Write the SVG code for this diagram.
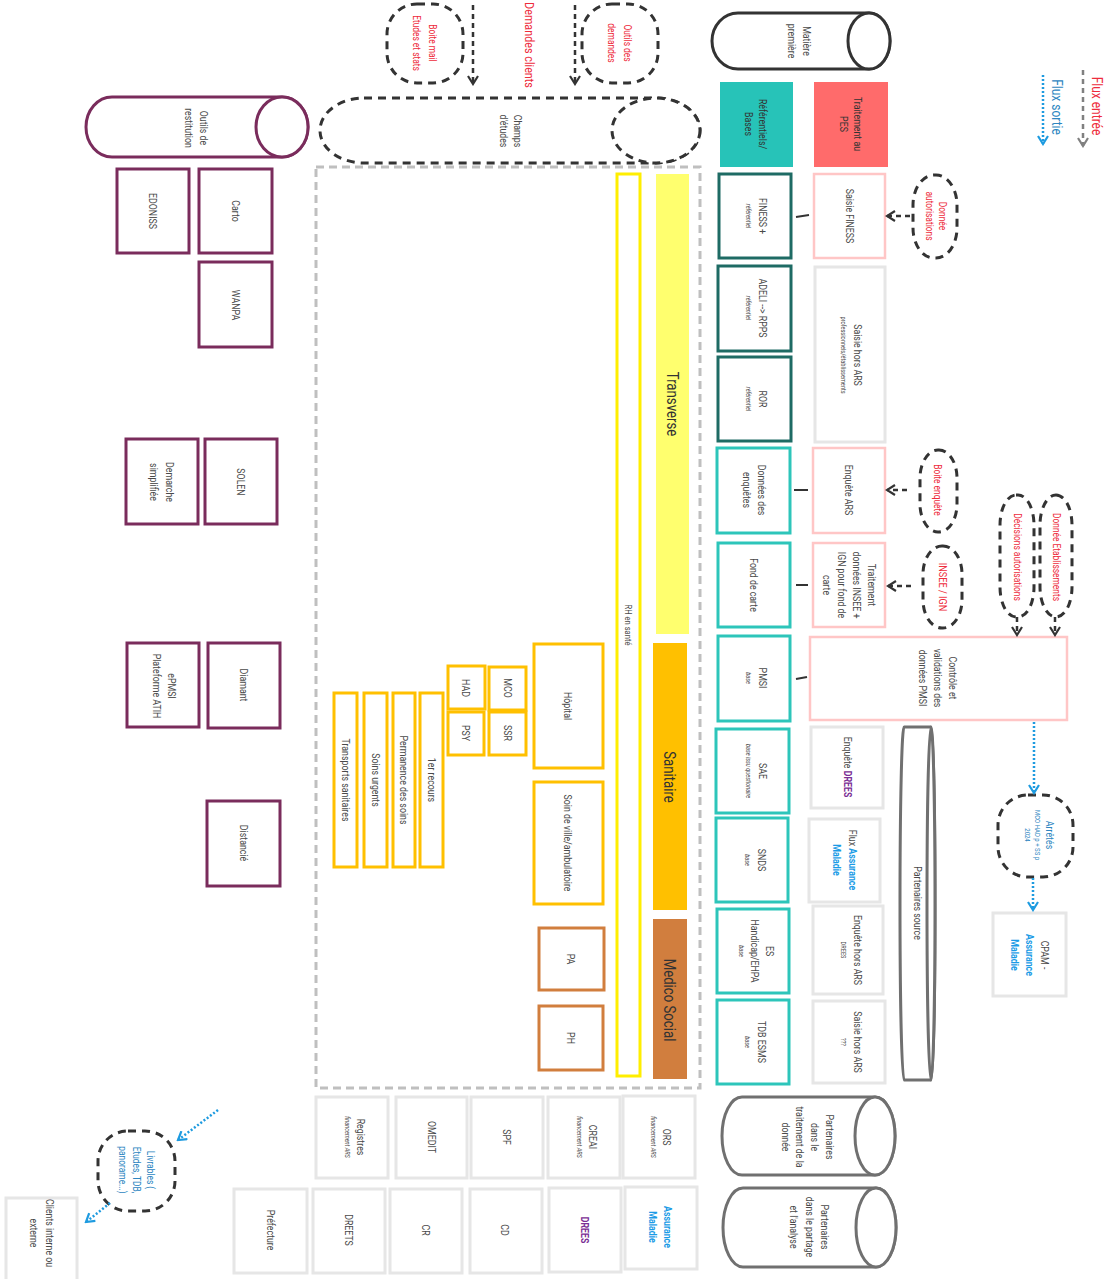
<svg xmlns="http://www.w3.org/2000/svg" width="1115" height="1279" viewBox="0 0 1115 1279">
<style>
.t{font-family:Roboto,"Liberation Sans",Arial,sans-serif;font-size:11px;fill:#4a4a4a;text-anchor:middle;dominant-baseline:central}
.sm{font-size:7px;font-style:italic}
.sm2{font-size:7px}
.red{fill:#EE2C3C}
.blt{fill:#2E86C1}
.bl{fill:#1A9BE6;font-weight:bold}
.pu{fill:#7B2F95;font-weight:bold}
.big{font-size:16.5px;fill:#333}
.pur{fill:#fff;stroke:#7A2C5C;stroke-width:3}
.dt{fill:#fff;stroke:#1E6B64;stroke-width:3}
.tq{fill:#fff;stroke:#2DC5BA;stroke-width:3}
.pk{fill:#fff;stroke:#FFC6C6;stroke-width:2.5}
.gr{fill:#fff;stroke:#E6E6E6;stroke-width:3}
.am{fill:#fff;stroke:#FFC000;stroke-width:3}
.cu{fill:#fff;stroke:#D17E3E;stroke-width:3}
.dash{fill:#fff;stroke:#333;stroke-width:3;stroke-dasharray:8 6}
.cg{fill:#fff;stroke:#707070;stroke-width:3}
.ck{fill:#fff;stroke:#333;stroke-width:3}
.cp{fill:#fff;stroke:#7A2C5C;stroke-width:3}
.dl{fill:none;stroke:#333;stroke-width:2.5;stroke-dasharray:5 4}
.lg{fill:none;stroke:#808080;stroke-width:2.5;stroke-dasharray:5 4}
.bd{fill:none;stroke:#1E9BE0;stroke-width:2.5;stroke-dasharray:2 2}
.sl{fill:none;stroke:#333;stroke-width:2}
</style>
<defs>
<marker id="ah" viewBox="0 0 12 12" refX="10" refY="6" markerWidth="12" markerHeight="12" markerUnits="userSpaceOnUse" orient="auto"><path d="M2,1 L10,6 L2,11" fill="none" stroke="#333" stroke-width="2.2"/></marker>
<marker id="ahg" viewBox="0 0 12 12" refX="10" refY="6" markerWidth="12" markerHeight="12" markerUnits="userSpaceOnUse" orient="auto"><path d="M2,1 L10,6 L2,11" fill="none" stroke="#808080" stroke-width="2.2"/></marker>
<marker id="ahb" viewBox="0 0 12 12" refX="10" refY="6" markerWidth="12" markerHeight="12" markerUnits="userSpaceOnUse" orient="auto"><path d="M2,1 L10,6 L2,11" fill="none" stroke="#1E9BE0" stroke-width="2.2"/></marker>
</defs>
<rect width="1115" height="1279" fill="#fff"/>

<g id="container"><rect x="316" y="167" width="384" height="921" fill="none" stroke="#BFBFBF" stroke-width="3" stroke-dasharray="8 5"/></g>

<g id="legend">
<text class="t red" transform="translate(1098,106) rotate(90) scale(.8,1)" style="font-size:15px">Flux entrée</text>
<text class="t blt" transform="translate(1058,107) rotate(90) scale(.8,1)" style="font-size:15px">Flux sortie</text>
</g>

<g id="demandes-clients"><text class="t red" transform="translate(529,45) rotate(90) scale(.8,1)" style="font-size:13.5px">Demandes clients</text></g>

<g id="boite-mail"><rect class="dash" x="387" y="4" width="76" height="79" rx="30"/>
<text class="t red" transform="translate(425,43) rotate(90) scale(.8,1)" style="font-size:10.5px"><tspan x="0" y="-8">Boite mail</tspan><tspan x="0" y="8">Etudes et stats</tspan></text></g>
<g id="outils-demandes"><rect class="dash" x="582" y="4" width="76" height="79" rx="30"/>
<text class="t red" transform="translate(620,43) rotate(90) scale(.8,1)" style="font-size:10.5px"><tspan x="0" y="-8">Outils des</tspan><tspan x="0" y="8">demandes</tspan></text></g>

<g id="champs-etudes"><path class="dash" d="M364,98 L656,98 A44 32.5 0 0 1 656,163 L364,163 A44 32.5 0 0 1 364,98 Z"/><ellipse class="dash" cx="656" cy="130.5" rx="44" ry="32.5"/>
<text class="t" transform="translate(511,131) rotate(90) scale(.8,1)"><tspan x="0" y="-7">Champs</tspan><tspan x="0" y="7">d'études</tspan></text></g>

<g id="matiere-premiere"><path class="ck" d="M738,13 L869,13 A21 28 0 0 1 869,69 L738,69 A26 28 0 0 1 738,13 Z"/><ellipse class="ck" cx="869" cy="41" rx="21" ry="28"/>
<text class="t" transform="translate(800,41) rotate(90) scale(.8,1)"><tspan x="0" y="-7.5">Matière</tspan><tspan x="0" y="7.5">première</tspan></text></g>

<g id="referentiels"><rect x="720" y="82" width="73" height="85" fill="#27C3B8"/>
<text class="t" transform="translate(756,124) rotate(90) scale(.8,1)" style="fill:#333"><tspan x="0" y="-7">Référentiels/</tspan><tspan x="0" y="7">Bases</tspan></text></g>
<g id="traitement-pes"><rect x="814" y="82" width="74" height="85" fill="#FF6B6B"/>
<text class="t" transform="translate(851,124) rotate(90) scale(.8,1)" style="fill:#333"><tspan x="0" y="-7">Traitement au</tspan><tspan x="0" y="7">PES</tspan></text></g>

<g id="outils-restitution"><path class="cp" d="M112,97 L282,97 A26 30 0 0 1 282,157 L112,157 A26 30 0 0 1 112,97 Z"/><ellipse class="cp" cx="282" cy="127" rx="26" ry="30"/>
<text class="t" transform="translate(197,128) rotate(90) scale(.8,1)"><tspan x="0" y="-7.5">Outils de</tspan><tspan x="0" y="7.5">restitution</tspan></text></g>

<g id="edoniss"><rect class="pur" x="117" y="169" width="72" height="84"/><text class="t" transform="translate(153,211) rotate(90) scale(.8,1)">EDONISS</text></g>
<g id="carto"><rect class="pur" x="199" y="169" width="73" height="84"/><text class="t" transform="translate(236,211) rotate(90) scale(.8,1)">Carto</text></g>
<g id="wanpa"><rect class="pur" x="199" y="262" width="73" height="85"/><text class="t" transform="translate(236,305) rotate(90) scale(.8,1)">WANPA</text></g>
<g id="demarche"><rect class="pur" x="126" y="439" width="72" height="85"/><text class="t" transform="translate(162,482) rotate(90) scale(.8,1)"><tspan x="0" y="-8">Demarche</tspan><tspan x="0" y="8">simplifiée</tspan></text></g>
<g id="solen"><rect class="pur" x="205" y="439" width="72" height="85"/><text class="t" transform="translate(241,482) rotate(90) scale(.8,1)">SOLEN</text></g>
<g id="epmsi"><rect class="pur" x="127" y="643" width="72" height="84"/><text class="t" transform="translate(164,686) rotate(90) scale(.8,1)"><tspan x="0" y="-8">ePMSI</tspan><tspan x="0" y="7">Plateforme ATIH</tspan></text></g>
<g id="diamant"><rect class="pur" x="208" y="643" width="72" height="85"/><text class="t" transform="translate(244,685) rotate(90) scale(.8,1)">Diamant</text></g>
<g id="distancie"><rect class="pur" x="207" y="801" width="73" height="85"/><text class="t" transform="translate(244,843) rotate(90) scale(.8,1)">Distancié</text></g>

<g id="transverse"><rect x="656" y="174" width="33" height="460" fill="#FFFF6E"/><text class="t big" transform="translate(673,404) rotate(90) scale(.8,1)">Transverse</text></g>
<g id="sanitaire"><rect x="653" y="643" width="34" height="267" fill="#FFC000"/><text class="t big" transform="translate(670,777) rotate(90) scale(.8,1)">Sanitaire</text></g>
<g id="medico-social"><rect x="653" y="919" width="34" height="160" fill="#D17E3E"/><text class="t big" transform="translate(670,1000) rotate(90) scale(.8,1)">Medico Social</text></g>
<g id="rh-sante"><rect x="617" y="174" width="23" height="902" fill="#fff" stroke="#FFEE00" stroke-width="3"/><text class="t" transform="translate(628,625) rotate(90) scale(.8,1)" style="font-size:9.5px">RH en santé</text></g>

<g id="hopital"><rect class="am" x="534" y="644" width="69" height="124"/><text class="t" transform="translate(568,706) rotate(90) scale(.8,1)">Hôpital</text></g>
<g id="soin-ville"><rect class="am" x="534" y="782" width="69" height="122"/><text class="t" transform="translate(568,843) rotate(90) scale(.8,1)">Soin de ville/ambulatoire</text></g>
<g id="pa"><rect class="cu" x="539" y="928" width="65" height="62"/><text class="t" transform="translate(571,959) rotate(90) scale(.8,1)">PA</text></g>
<g id="ph"><rect class="cu" x="539" y="1006" width="64" height="64"/><text class="t" transform="translate(571,1038) rotate(90) scale(.8,1)">PH</text></g>
<g id="mco"><rect class="am" x="489" y="667" width="37" height="43"/><text class="t" transform="translate(508,688) rotate(90) scale(.8,1)">MCO</text></g>
<g id="ssr"><rect class="am" x="489" y="712" width="37" height="43"/><text class="t" transform="translate(508,733) rotate(90) scale(.8,1)">SSR</text></g>
<g id="had"><rect class="am" x="448" y="666" width="37" height="43"/><text class="t" transform="translate(466,688) rotate(90) scale(.8,1)">HAD</text></g>
<g id="psy"><rect class="am" x="448" y="712" width="36" height="43"/><text class="t" transform="translate(466,733) rotate(90) scale(.8,1)">PSY</text></g>
<g id="premier-recours"><rect class="am" x="420" y="693" width="23" height="174"/><text class="t" transform="translate(432,780) rotate(90) scale(.8,1)">1er recours</text></g>
<g id="permanence"><rect class="am" x="393" y="693" width="22" height="174"/><text class="t" transform="translate(404,780) rotate(90) scale(.8,1)">Permanence des soins</text></g>
<g id="soins-urgents"><rect class="am" x="364" y="693" width="23" height="174"/><text class="t" transform="translate(376,780) rotate(90) scale(.8,1)">Soins urgents</text></g>
<g id="transports"><rect class="am" x="334" y="693" width="23" height="174"/><text class="t" transform="translate(346,780) rotate(90) scale(.8,1)">Transports sanitaires</text></g>

<g id="finess"><rect class="dt" x="719" y="174" width="72" height="84"/><text class="t" transform="translate(755,216) rotate(90) scale(.8,1)"><tspan x="0" y="-8">FINESS +</tspan><tspan class="sm" x="0" y="7">référentiel</tspan></text></g>
<g id="adeli"><rect class="dt" x="718" y="266" width="73" height="85"/><text class="t" transform="translate(755,308) rotate(90) scale(.8,1)"><tspan x="0" y="-8">ADELI --&gt; RPPS</tspan><tspan class="sm" x="0" y="7">référentiel</tspan></text></g>
<g id="ror"><rect class="dt" x="718" y="357" width="73" height="84"/><text class="t" transform="translate(755,399) rotate(90) scale(.8,1)"><tspan x="0" y="-8">ROR</tspan><tspan class="sm" x="0" y="7">référentiel</tspan></text></g>
<g id="donnees-enquetes"><rect class="tq" x="717" y="448" width="73" height="85"/><text class="t" transform="translate(755,490) rotate(90) scale(.8,1)"><tspan x="0" y="-7">Données des</tspan><tspan x="0" y="8">enquêtes</tspan></text></g>
<g id="fond-carte"><rect class="tq" x="718" y="543" width="72" height="84"/><text class="t" transform="translate(754,585) rotate(90) scale(.8,1)">Fond de carte</text></g>
<g id="pmsi"><rect class="tq" x="718" y="636" width="72" height="85"/><text class="t" transform="translate(755,678) rotate(90) scale(.8,1)"><tspan x="0" y="-8">PMSI</tspan><tspan class="sm" x="0" y="7">base</tspan></text></g>
<g id="sae"><rect class="tq" x="716" y="729" width="73" height="84"/><text class="t" transform="translate(755,771) rotate(90) scale(.8,1)"><tspan x="0" y="-8">SAE</tspan><tspan class="sm" x="0" y="7">base issu questionaire</tspan></text></g>
<g id="snds"><rect class="tq" x="716" y="818" width="72" height="84"/><text class="t" transform="translate(754,860) rotate(90) scale(.8,1)"><tspan x="0" y="-8">SNDS</tspan><tspan class="sm" x="0" y="7">base</tspan></text></g>
<g id="es-handicap"><rect class="tq" x="717" y="909" width="72" height="84"/><text class="t" transform="translate(755,951) rotate(90) scale(.8,1)"><tspan x="0" y="-15">ES</tspan><tspan x="0" y="0">Handicap/EHPA</tspan><tspan class="sm" x="0" y="14">base</tspan></text></g>
<g id="tdb-esms"><rect class="tq" x="717" y="1000" width="72" height="84"/><text class="t" transform="translate(754,1042) rotate(90) scale(.8,1)"><tspan x="0" y="-8">TDB ESMS</tspan><tspan class="sm" x="0" y="7">base</tspan></text></g>

<g id="saisie-finess"><rect class="pk" x="814" y="174" width="71" height="84"/><text class="t" transform="translate(850,216) rotate(90) scale(.8,1)">Saisie FINESS</text></g>
<g id="saisie-hors-ars"><rect class="gr" x="815" y="267" width="70" height="175"/><text class="t" transform="translate(850,355) rotate(90) scale(.8,1)"><tspan x="0" y="-8">Saisie hors ARS</tspan><tspan class="sm2" x="0" y="7">professionnels/établissements</tspan></text></g>
<g id="enquete-ars"><rect class="pk" x="813" y="448" width="72" height="85"/><text class="t" transform="translate(849,490) rotate(90) scale(.8,1)">Enquête ARS</text></g>
<g id="traitement-insee"><rect class="pk" x="813" y="543" width="72" height="84"/><text class="t" transform="translate(850,585) rotate(90) scale(.8,1)"><tspan x="0" y="-22.5">Traitement</tspan><tspan x="0" y="-7.5">données INSEE +</tspan><tspan x="0" y="7.5">IGN pour fond de</tspan><tspan x="0" y="22.5">carte</tspan></text></g>
<g id="controle-pmsi"><rect class="pk" x="810" y="637" width="257" height="83"/><text class="t" transform="translate(938,678) rotate(90) scale(.8,1)"><tspan x="0" y="-15">Contrôle et</tspan><tspan x="0" y="0">validations des</tspan><tspan x="0" y="15">données PMSI</tspan></text></g>
<g id="enquete-drees"><rect class="gr" x="811" y="727" width="72" height="81"/><text class="t" transform="translate(848,767) rotate(90) scale(.8,1)">Enquête <tspan class="pu">DREES</tspan></text></g>
<g id="flux-am"><rect class="gr" x="809" y="819" width="71" height="83"/><text class="t" transform="translate(845,860) rotate(90) scale(.8,1)"><tspan x="0" y="-8">Flux <tspan class="bl">Assurance</tspan></tspan><tspan class="bl" x="0" y="8">Maladie</tspan></text></g>
<g id="enquete-hors-ars"><rect class="gr" x="813" y="906" width="70" height="88"/><text class="t" transform="translate(850,950) rotate(90) scale(.8,1)"><tspan x="0" y="-8">Enquête hors ARS</tspan><tspan class="sm2" x="0" y="7">DREES</tspan></text></g>
<g id="saisie-hors-ars-2"><rect class="gr" x="813" y="1001" width="72" height="82"/><text class="t" transform="translate(850,1042) rotate(90) scale(.8,1)"><tspan x="0" y="-8">Saisie hors ARS</tspan><tspan class="sm2" x="0" y="7">???</tspan></text></g>

<g id="partenaires-source"><path class="cg" d="M904,727 L931,727 A4 176.5 0 0 1 931,1080 L904,1080 A4 176.5 0 0 1 904,727 Z"/><ellipse class="cg" cx="931" cy="903.5" rx="4" ry="176.5"/>
<text class="t" transform="translate(918,903) rotate(90) scale(.8,1)">Partenaires source</text></g>

<g id="donnee-autorisations"><rect class="dash" x="913" y="175" width="44" height="83" rx="21" ry="30"/><text class="t red" transform="translate(936,216) rotate(90) scale(.8,1)" style="font-size:10.5px"><tspan x="0" y="-7">Donnée</tspan><tspan x="0" y="6">autorisations</tspan></text></g>
<g id="boite-enquete"><rect class="dash" x="920" y="450" width="37" height="82" rx="18" ry="28"/><text class="t red" transform="translate(938,490) rotate(90) scale(.8,1)" style="font-size:10.5px">Boite enquête</text></g>
<g id="insee-ign"><rect class="dash" x="923" y="546" width="39" height="82" rx="19" ry="28"/><text class="t red" transform="translate(943,587) rotate(90) scale(.8,1)" style="font-size:11.5px">INSEE / IGN</text></g>
<g id="decisions-autorisations"><rect class="dash" x="1000" y="495" width="34" height="122" rx="16" ry="30"/><text class="t red" transform="translate(1018,557) rotate(90) scale(.8,1)" style="font-size:10.5px">Décisions autorisations</text></g>
<g id="donnee-etablissements"><rect class="dash" x="1040" y="495" width="32" height="122" rx="16" ry="30"/><text class="t red" transform="translate(1057,557) rotate(90) scale(.8,1)" style="font-size:10.5px">Donnée Etablissements</text></g>
<g id="arretes"><rect class="dash" x="998" y="795" width="75" height="82" rx="30"/><text class="t blt" transform="translate(1037,835) rotate(90) scale(.8,1)"><tspan x="0" y="-13">Arrêtés</tspan><tspan x="0" y="0" style="font-size:7.5px">MCO HAD p + SS p</tspan><tspan x="0" y="10" style="font-size:7.5px">2024</tspan></text></g>
<g id="cpam"><rect class="gr" x="993" y="913" width="73" height="83"/><text class="t" transform="translate(1030,955) rotate(90) scale(.8,1)"><tspan x="0" y="-15">CPAM -</tspan><tspan class="bl" x="0" y="0">Assurance</tspan><tspan class="bl" x="0" y="15">Maladie</tspan></text></g>

<g id="partenaires-traitement"><path class="cg" d="M742,1097 L875,1097 A20 39 0 0 1 875,1175 L742,1175 A20 39 0 0 1 742,1097 Z"/><ellipse class="cg" cx="875" cy="1136" rx="20" ry="39"/>
<text class="t" transform="translate(808,1137) rotate(90) scale(.8,1)"><tspan x="0" y="-22">Partenaires</tspan><tspan x="0" y="-7">dans le</tspan><tspan x="0" y="8">traitement de la</tspan><tspan x="0" y="22">donnée</tspan></text></g>
<g id="partenaires-partage"><path class="cg" d="M743,1188 L876,1188 A20 39.5 0 0 1 876,1267 L743,1267 A20 39.5 0 0 1 743,1188 Z"/><ellipse class="cg" cx="876" cy="1227.5" rx="20" ry="39.5"/>
<text class="t" transform="translate(810,1227) rotate(90) scale(.8,1)"><tspan x="0" y="-15.5">Partenaires</tspan><tspan x="0" y="0">dans le partage</tspan><tspan x="0" y="15.5">et l'analyse</tspan></text></g>

<g id="ors"><rect class="gr" x="623" y="1096" width="72" height="82"/><text class="t" transform="translate(660,1137) rotate(90) scale(.8,1)"><tspan x="0" y="-7">ORS</tspan><tspan class="sm" x="0" y="7">financement ARS</tspan></text></g>
<g id="creai"><rect class="gr" x="548" y="1097" width="72" height="81"/><text class="t" transform="translate(586,1137) rotate(90) scale(.8,1)"><tspan x="0" y="-7">CREAI</tspan><tspan class="sm" x="0" y="7">financement ARS</tspan></text></g>
<g id="spf"><rect class="gr" x="471" y="1097" width="72" height="81"/><text class="t" transform="translate(507,1137) rotate(90) scale(.8,1)">SPF</text></g>
<g id="omedit"><rect class="gr" x="396" y="1097" width="71" height="81"/><text class="t" transform="translate(432,1137) rotate(90) scale(.8,1)">OMEDIT</text></g>
<g id="registres"><rect class="gr" x="316" y="1097" width="72" height="81"/><text class="t" transform="translate(354,1137) rotate(90) scale(.8,1)"><tspan x="0" y="-7">Registres</tspan><tspan class="sm" x="0" y="7">financement ARS</tspan></text></g>
<g id="assurance-maladie"><rect class="gr" x="625" y="1187" width="72" height="82"/><text class="t" transform="translate(661,1227) rotate(90) scale(.8,1)"><tspan class="bl" x="0" y="-7">Assurance</tspan><tspan class="bl" x="0" y="8">Maladie</tspan></text></g>
<g id="drees"><rect class="gr" x="549" y="1188" width="72" height="84"/><text class="t pu" transform="translate(585,1230) rotate(90) scale(.8,1)">DREES</text></g>
<g id="cd"><rect class="gr" x="470" y="1189" width="72" height="84"/><text class="t" transform="translate(505,1230) rotate(90) scale(.8,1)">CD</text></g>
<g id="cr"><rect class="gr" x="390" y="1189" width="72" height="84"/><text class="t" transform="translate(426,1230) rotate(90) scale(.8,1)">CR</text></g>
<g id="dreets"><rect class="gr" x="313" y="1189" width="72" height="84"/><text class="t" transform="translate(349,1230) rotate(90) scale(.8,1)">DREETS</text></g>
<g id="prefecture"><rect class="gr" x="234" y="1189" width="73" height="84"/><text class="t" transform="translate(271,1230) rotate(90) scale(.8,1)">Préfecture</text></g>

<g id="livrables"><rect class="dash" x="98" y="1131" width="77" height="80" rx="30"/><text class="t blt" transform="translate(137,1170) rotate(90) scale(.8,1)" style="font-size:10.5px"><tspan x="0" y="-14">Livrables (</tspan><tspan x="0" y="0">Etudes, TDB,</tspan><tspan x="0" y="14">panorame...)</tspan></text></g>
<g id="clients"><rect class="gr" x="6" y="1198" width="71" height="84"/><text class="t" transform="translate(42,1233) rotate(90) scale(.8,1)"><tspan x="0" y="-8">Clients interne ou</tspan><tspan x="0" y="8">externe</tspan></text></g>

<g id="connectors">
<path class="lg" d="M1083,70 L1083,146" marker-end="url(#ahg)"/>
<path class="bd" d="M1043,75 L1043,144" marker-end="url(#ahb)"/>
<path class="dl" d="M473,5 L473,84" marker-end="url(#ah)"/>
<path class="dl" d="M575,5 L575,84" marker-end="url(#ah)"/>
<path class="dl" d="M910,216 L887,216" marker-end="url(#ah)"/>
<path class="dl" d="M907,490 L887,490" marker-end="url(#ah)"/>
<path class="dl" d="M911,586 L888,586" marker-end="url(#ah)"/>
<path class="dl" d="M1017,617 L1017,635" marker-end="url(#ah)"/>
<path class="dl" d="M1055,617 L1055,635" marker-end="url(#ah)"/>
<path class="bd" d="M1034,722 L1034,793" marker-end="url(#ahb)"/>
<path class="bd" d="M1033,878 L1033,910" marker-end="url(#ahb)"/>
<path class="bd" d="M218,1110 L178,1140" marker-end="url(#ahb)"/>
<path class="bd" d="M110,1203 L86,1222" marker-end="url(#ahb)"/>
<path class="sl" d="M796,217 L809,215"/>
<path class="sl" d="M794,490 L808,490"/>
<path class="sl" d="M796,585 L808,585"/>
<path class="sl" d="M796,679 L807,677"/>
</g>
</svg>
